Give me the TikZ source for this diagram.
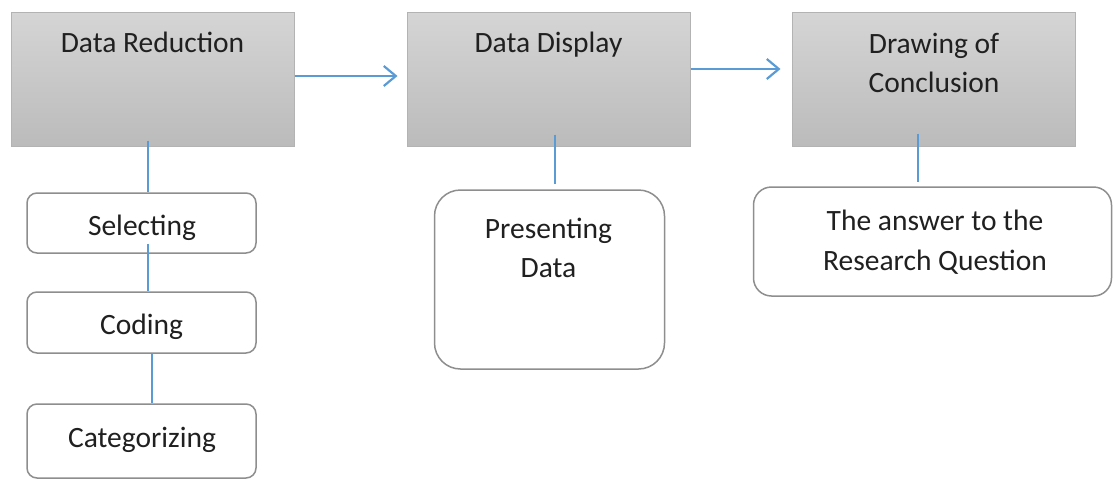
\documentclass[tikz,border=0pt]{standalone}
\usepackage{fontspec}
\setmainfont{Carlito}
\usetikzlibrary{arrows.meta}

\definecolor{linkblue}{HTML}{5B9BD5}
\definecolor{boxtop}{HTML}{D5D5D5}
\definecolor{boxbot}{HTML}{BBBBBB}
\definecolor{boxedge}{HTML}{B3B3B3}
\definecolor{cardedge}{HTML}{8E8E8E}
\definecolor{ink}{HTML}{202020}

\tikzset{
  stage/.style={rectangle, draw=boxedge, line width=1pt,
    top color=boxtop, bottom color=boxbot,
    minimum width=283pt, minimum height=134pt, inner sep=0pt},
  card/.style={rectangle, rounded corners=10pt, draw=cardedge,
    line width=1.5pt, fill=white, inner sep=0pt},
  caption/.style={font=\fontsize{29.5}{39}\selectfont, text=ink,
    inner sep=0pt, anchor=base},
  link/.style={draw=linkblue, line width=1.3pt},
  flow/.style={draw=linkblue, line width=2.2pt,
    -{Straight Barb[length=12pt,width=20pt,line width=2.2pt]}},
}

\begin{document}
\begin{tikzpicture}[x=1pt,y=-1pt]
\useasboundingbox (0,0) rectangle (1113,480);

% three main stages
\node[stage] (dr) at (152.5,79) {};
\node[stage] (dd) at (548.5,79) {};
\node[stage] (dc) at (933.5,79) {};

\node[caption] (dr-t) at (152.5,52) {Data Reduction};
\node[caption] (dd-t) at (548.5,52) {Data Display};
\node[caption] (dc-t1) at (934,53) {Drawing of};
\node[caption] (dc-t2) at (934,92) {Conclusion};

% sub-steps
\node[card, minimum width=229pt, minimum height=60pt] (sel) at (141.5,223) {};
\node[card, minimum width=229pt, minimum height=61pt] (cod) at (141.5,322.5) {};
\node[card, minimum width=229pt, minimum height=74pt] (cat) at (141.5,441) {};
\node[card, rounded corners=26pt, minimum width=230pt, minimum height=179pt] (pres) at (549.5,279.5) {};
\node[card, rounded corners=18pt, minimum width=358pt, minimum height=109pt] (ans) at (932.5,241.5) {};

\node[caption] (sel-t) at (142,235) {Selecting};
\node[caption] (cod-t) at (141.5,334) {Coding};
\node[caption] (cat-t) at (142,447) {Categorizing};
\node[caption] (pres-t1) at (548.5,238) {Presenting};
\node[caption] (pres-t2) at (548.5,277) {Data};
\node[caption] (ans-t1) at (935,230) {The answer to the};
\node[caption] (ans-t2) at (935,270) {Research Question};

% flow between stages
\draw[flow, shorten >=9pt] ([yshift=3pt]dr.east) -- ([yshift=3pt]dd.west);
\draw[flow, shorten >=11pt] ([yshift=10pt]dd.east) -- ([yshift=10pt]dc.west);

% ties to sub-steps
\draw[link] ([xshift=-4.5pt,yshift=6pt]dr.south) -- ([xshift=6.5pt]sel.north);
\draw[link] ([xshift=6.5pt,yshift=10pt]sel.south) -- ([xshift=6.5pt]cod.north);
\draw[link] ([xshift=10.5pt]cod.south) -- ([xshift=10.5pt]cat.north);
\draw[link] ([xshift=6.5pt,yshift=12pt]dd.south) -- ([xshift=5.5pt,yshift=5pt]pres.north);
\draw[link] ([xshift=-15.5pt,yshift=13pt]dc.south) -- ([xshift=-14.5pt,yshift=4pt]ans.north);
\end{tikzpicture}
\end{document}
